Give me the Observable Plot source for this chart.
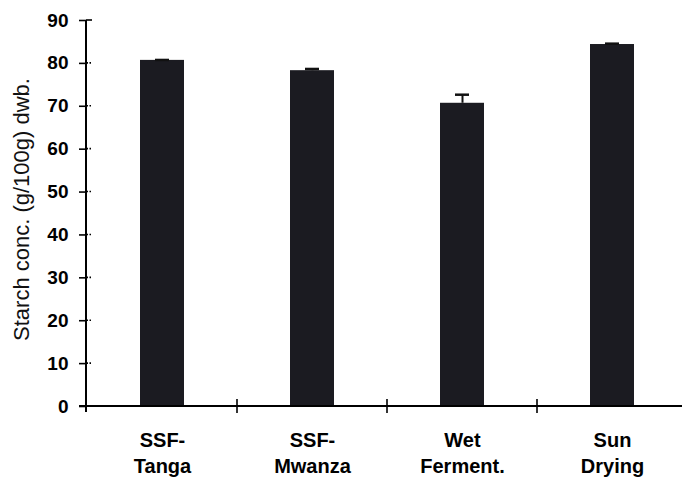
<!DOCTYPE html>
<html><head><meta charset="utf-8">
<script src="https://cdn.jsdelivr.net/npm/d3@7"></script>
<script src="https://cdn.jsdelivr.net/npm/@observablehq/plot@0.6"></script>
<style>body{margin:0;background:#fff}</style>
</head><body><div id="chart"></div>
<script>
const categories = ["SSF-Tanga", "SSF-Mwanza", "Wet Ferment.", "Sun Drying"];
const tickLabels = ["SSF-\nTanga", "SSF-\nMwanza", "Wet\nFerment.", "Sun\nDrying"];
const starch = [80.7, 78.3, 70.7, 84.4];
const errors = [0.1, 0.4, 2.0, 0.2];
const yTicks = [0, 10, 20, 30, 40, 50, 60, 70, 80, 90];
const yLabel = "Starch conc. (g/100g) dwb.";

const data = categories.map((c, i) => ({category: c, value: starch[i], err: errors[i]}));
const font = "'Liberation Sans', Arial, Helvetica, sans-serif";

function axisLines(index, scales, values, dims) {
  const g = d3.create("svg:g").attr("stroke", "#000").attr("fill", "none");
  const xs = scales.x, ys = scales.y;
  const bw = typeof xs.bandwidth === "function" ? xs.bandwidth() : xs.bandwidth;
  const x0 = dims.marginLeft, y0 = ys(0);
  g.append("line").attr("x1", x0).attr("x2", x0).attr("y1", ys(90)).attr("y2", y0 + 6).attr("stroke-width", 2);
  g.append("line").attr("x1", x0 - 7).attr("x2", dims.width).attr("y1", y0).attr("y2", y0).attr("stroke-width", 2);
  for (const t of yTicks) {
    if (t === 0) continue;
    g.append("line").attr("x1", x0).attr("x2", x0 + (t === 90 ? 6 : 5)).attr("y1", ys(t)).attr("y2", ys(t))
      .attr("stroke-width", 1.6).attr("stroke-dasharray", t === 90 ? null : "2 1.5");
  }
  for (const c of categories.slice(0, -1)) {
    const xp = xs(c) + bw;
    g.append("line").attr("x1", xp).attr("x2", xp).attr("y1", y0 - 7).attr("y2", y0 + 7).attr("stroke-width", 1.6);
  }
  return g.node();
}

const chart = Plot.plot({
  width: 682,
  height: 479,
  marginLeft: 86,
  marginRight: 2,
  marginTop: 20,
  marginBottom: 73,
  style: {fontFamily: font, color: "#000", background: "#fff"},
  x: {domain: categories, range: [87, 687], padding: 0, axis: null},
  y: {domain: [0, 90], axis: null},
  marks: [
    Plot.barY(data, {x: "category", y: "value", fill: "#1b1b21", insetLeft: 53, insetRight: 53}),
    Plot.ruleX(data, {x: "category", y1: "value", y2: d => d.value + d.err, stroke: "#111", strokeWidth: 2}),
    Plot.tickY(data, {x: "category", y: d => d.value + d.err, stroke: "#111", strokeWidth: 2.5, insetLeft: 68, insetRight: 68}),
    Plot.axisY({ticks: yTicks, tickSize: 7, tickPadding: 11, label: null, fontSize: 19, fontWeight: "bold", strokeWidth: 1.6}),
    Plot.axisX({tickSize: 0, tickPadding: 22, label: null, tickFormat: d => tickLabels[categories.indexOf(d)], fontSize: 20, fontWeight: "bold", lineHeight: 1.3}),
    Plot.text([yLabel], {frameAnchor: "left", textAnchor: "middle", lineAnchor: "middle", rotate: -90, dx: -65, dy: -4, fontSize: 22, fontWeight: "normal", fill: "#111"}),
    axisLines
  ]
});
document.getElementById("chart").appendChild(chart);
</script>
</body></html>
